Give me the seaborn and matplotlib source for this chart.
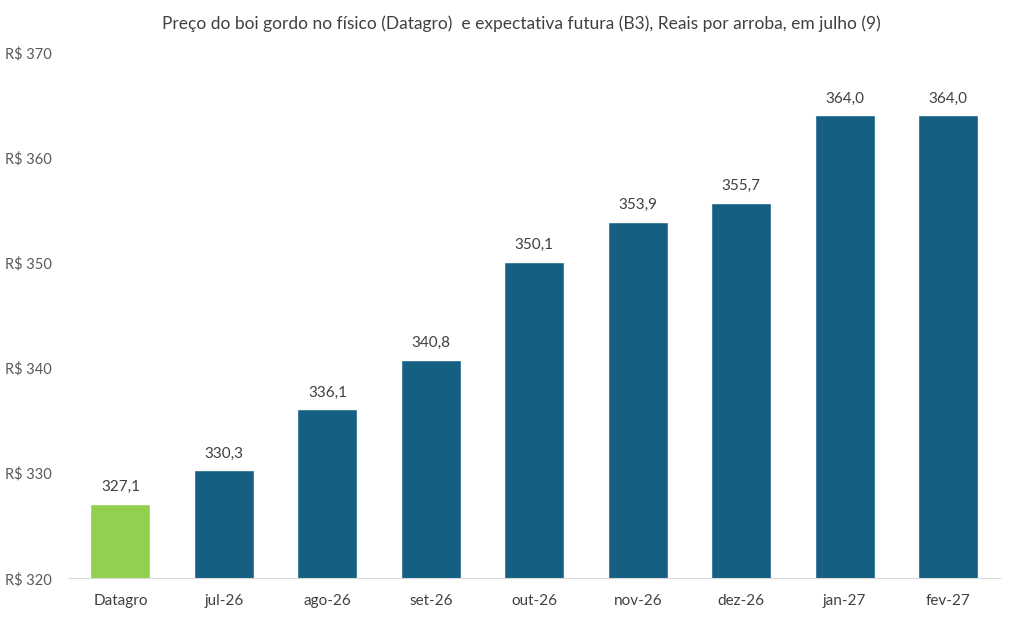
import pandas as pd
import matplotlib.pyplot as plt
import seaborn as sns
from matplotlib.ticker import FixedLocator

# Chart data
categories = ['Datagro', 'jul-26', 'ago-26', 'set-26', 'out-26', 'nov-26', 'dez-26', 'jan-27', 'fev-27']
prices = [327.1, 330.3, 336.1, 340.8, 350.1, 353.9, 355.7, 364.0, 364.0]
y_ticks = [320, 330, 340, 350, 360, 370]

green = '#92D050'
blue = '#156082'
bar_colors = [green] + [blue] * (len(categories) - 1)

sns.set_style('white')
plt.rcParams['font.family'] = ['Lato', 'DejaVu Sans']

data = pd.DataFrame({'cat': categories, 'price': prices})

fig = plt.figure(figsize=(10.11, 6.3), dpi=100)
ax = fig.add_axes([0.068, 0.082, 0.921, 0.835])

sns.barplot(data=data, x='cat', y='price', hue='cat', palette=bar_colors,
            legend=False, width=0.58, saturation=1, ax=ax)

ax.set_ylim(320, 370)
ax.set_yticks(y_ticks)
ax.set_yticklabels([f'R$ {v}' for v in y_ticks], fontsize=10.5, color='#595959')
ax.set_xlim(-0.5, len(categories) - 0.5)
ax.tick_params(axis='x', labelsize=11, labelcolor='#404040', length=0, pad=11)
ax.tick_params(axis='y', length=0, pad=12)

# category boundary ticks on the bottom axis
ax.xaxis.set_minor_locator(FixedLocator([i - 0.5 for i in range(len(categories) + 1)]))
ax.tick_params(axis='x', which='minor', length=5, color='#D9D9D9', width=1)

for s in ['top', 'right', 'left']:
    ax.spines[s].set_visible(False)
ax.spines['bottom'].set_color('#D9D9D9')

for i, v in enumerate(prices):
    ax.text(i, v + 0.9, f'{v:.1f}'.replace('.', ','), ha='center', va='bottom',
            fontsize=11, color='#404040')

ax.set_xlabel('')
ax.set_ylabel('')
fig.suptitle('Preço do boi gordo no físico (Datagro)  e expectativa futura (B3), Reais por arroba, em julho (9)',
             x=0.516, y=0.975, fontsize=12.5, color='#404040')

fig.savefig('out.png', dpi=100)
